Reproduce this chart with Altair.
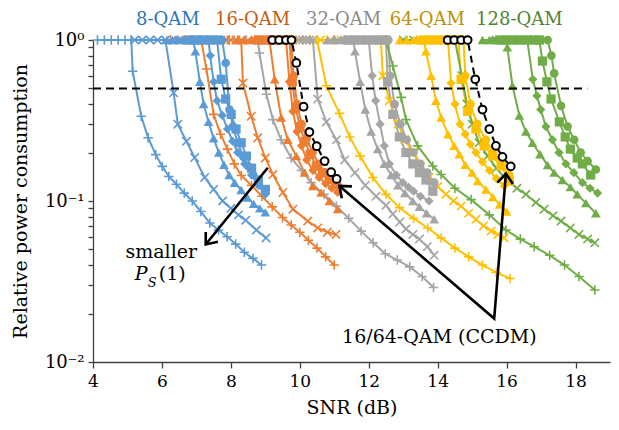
import math
import altair as alt
import pandas as pd

# ---------------- data ----------------
# 8-QAM
b_plus_x = [4.13, 4.33, 4.53, 4.73, 4.93, 5.11, 5.15, 5.4, 5.6, 5.82, 6.01, 6.2, 6.42, 6.65, 6.88, 7.13, 7.39, 7.64, 7.89, 8.14, 8.39, 8.64, 8.89]
b_plus_y = [1, 1, 1, 1, 1, 1, 0.64, 0.336, 0.247, 0.194, 0.164, 0.142, 0.127, 0.112, 0.1, 0.086, 0.073, 0.066, 0.06, 0.054, 0.048, 0.044, 0.04]
b_cross_x = [5.21, 5.43, 5.65, 5.87, 6.1, 6.34, 6.46, 6.71, 6.95, 7.24, 7.5, 7.76, 8.0, 8.22, 8.43, 8.74, 9.02]
b_cross_y = [1, 1, 1, 1, 1, 0.47, 0.3, 0.235, 0.186, 0.14, 0.118, 0.1, 0.09, 0.082, 0.076, 0.066, 0.059]
b_tri_x = [6.15, 6.3, 6.5, 6.7, 6.9, 6.97, 7.1, 7.21, 7.35, 7.5, 7.65, 7.8, 7.95, 8.11, 8.3, 8.48, 8.66, 8.84, 9.0]
b_tri_y = [1, 1, 1, 1, 1, 0.85, 0.55, 0.4, 0.31, 0.245, 0.2, 0.168, 0.145, 0.13, 0.117, 0.105, 0.096, 0.09, 0.085]
b_dia_x = [6.4, 6.6, 6.8, 7.0, 7.2, 7.35, 7.4, 7.5, 7.6, 7.75, 7.9, 8.05, 8.2, 8.4, 8.6, 8.8, 9.0]
b_dia_y = [1, 1, 1, 1, 1, 1, 0.8, 0.55, 0.42, 0.34, 0.28, 0.235, 0.2, 0.17, 0.145, 0.125, 0.11]
b_sq_x = [6.8, 7.0, 7.2, 7.4, 7.6, 7.72, 7.85, 8.01, 8.15, 8.3, 8.45, 8.6, 8.8, 9.0]
b_sq_y = [1, 1, 1, 1, 1, 0.57, 0.43, 0.345, 0.28, 0.23, 0.19, 0.16, 0.135, 0.118]
b_cir_x = [7.0, 7.2, 7.4, 7.6, 7.75, 7.85, 7.96, 8.06, 8.2, 8.35, 8.5, 8.65, 8.8, 9.0]
b_cir_y = [1, 1, 1, 1, 1, 0.72, 0.37, 0.29, 0.23, 0.19, 0.165, 0.145, 0.128, 0.115]

# 16-QAM
o_plus_x = [6.25, 6.45, 6.65, 6.85, 7.05, 7.14, 7.29, 7.5, 7.7, 7.9, 8.1, 8.3, 8.6, 8.9, 9.2, 9.5, 9.75, 10.0, 10.25, 10.5, 10.75, 11.0]
o_plus_y = [1, 1, 1, 1, 1, 1, 0.66, 0.345, 0.26, 0.21, 0.17, 0.144, 0.125, 0.107, 0.092, 0.079, 0.071, 0.064, 0.057, 0.051, 0.045, 0.04]
o_cross_x = [7.7, 7.85, 8.0, 8.15, 8.3, 8.35, 8.59, 8.78, 9.0, 9.22, 9.51, 9.8, 10.23, 10.52, 10.8, 11.05]
o_cross_y = [1, 1, 1, 1, 1, 0.54, 0.336, 0.247, 0.185, 0.146, 0.113, 0.089, 0.075, 0.068, 0.064, 0.062]
o_tri_x = [8.2, 8.4, 8.6, 8.8, 9.0, 9.12, 9.27, 9.46, 9.65, 9.9, 10.14, 10.38, 10.62, 10.86, 11.1]
o_tri_y = [1, 1, 1, 1, 1, 1, 0.57, 0.33, 0.24, 0.19, 0.15, 0.124, 0.113, 0.1, 0.089]
o_dia_x = [8.6, 8.8, 9.0, 9.2, 9.4, 9.6, 9.7, 9.8, 9.92, 10.05, 10.2, 10.38, 10.56, 10.75, 10.93, 11.1]
o_dia_y = [1, 1, 1, 1, 1, 1, 0.55, 0.36, 0.27, 0.22, 0.18, 0.155, 0.14, 0.128, 0.12, 0.113]
o_sq_x = [8.8, 9.0, 9.2, 9.4, 9.6, 9.7, 9.78, 9.88, 10.0, 10.15, 10.3, 10.48, 10.66, 10.85, 11.05]
o_sq_y = [1, 1, 1, 1, 1, 1, 0.55, 0.38, 0.29, 0.235, 0.195, 0.165, 0.15, 0.137, 0.127]
o_cir_x = [9.0, 9.2, 9.4, 9.6, 9.75, 9.82, 9.92, 10.05, 10.2, 10.37, 10.55, 10.73, 10.9, 11.1]
o_cir_y = [1, 1, 1, 1, 1, 0.6, 0.4, 0.3, 0.245, 0.2, 0.17, 0.15, 0.135, 0.125]

# 32-QAM
g_plus_x = [7.7, 7.95, 8.2, 8.45, 8.7, 8.78, 8.83, 9.03, 9.22, 9.46, 9.75, 10.05, 10.33, 10.7, 11.06, 11.42, 11.78, 12.13, 12.48, 12.83, 13.19, 13.55, 13.88]
g_plus_y = [1, 1, 1, 1, 1, 1, 0.83, 0.46, 0.32, 0.24, 0.185, 0.155, 0.13, 0.11, 0.093, 0.078, 0.065, 0.055, 0.047, 0.043, 0.039, 0.034, 0.029]
g_cross_x = [9.98, 10.08, 10.18, 10.28, 10.38, 10.52, 10.77, 11.06, 11.3, 11.6, 11.9, 12.21, 12.5, 12.7, 12.9, 13.08, 13.28, 13.47, 13.7, 13.9]
g_cross_y = [1, 1, 1, 1, 1, 0.43, 0.31, 0.24, 0.18, 0.15, 0.125, 0.107, 0.094, 0.083, 0.074, 0.067, 0.062, 0.058, 0.052, 0.046]
g_tri_x = [10.8, 11.0, 11.2, 11.4, 11.55, 11.6, 11.75, 11.9, 12.07, 12.26, 12.45, 12.65, 12.85, 13.05, 13.28, 13.47, 13.68, 13.9]
g_tri_y = [1, 1, 1, 1, 1, 0.85, 0.55, 0.37, 0.27, 0.21, 0.17, 0.145, 0.125, 0.112, 0.1, 0.092, 0.084, 0.077]
g_dia_x = [11.0, 11.2, 11.4, 11.6, 11.8, 12.0, 12.1, 12.2, 12.33, 12.45, 12.6, 12.8, 12.99, 13.15, 13.3, 13.5, 13.75]
g_dia_y = [1, 1, 1, 1, 1, 1, 0.6, 0.42, 0.3, 0.22, 0.17, 0.145, 0.13, 0.122, 0.115, 0.107, 0.1]
g_sq_x = [11.4, 11.6, 11.8, 12.0, 12.2, 12.4, 12.5, 12.55, 12.7, 12.89, 13.08, 13.28, 13.47, 13.66, 13.86]
g_sq_y = [1, 1, 1, 1, 1, 1, 1, 0.55, 0.345, 0.25, 0.2, 0.17, 0.15, 0.135, 0.115]
g_cir_x = [11.8, 12.0, 12.2, 12.4, 12.57, 12.62, 12.75, 12.92, 13.1, 13.3, 13.5, 13.7, 13.9]
g_cir_y = [1, 1, 1, 1, 1, 0.6, 0.4, 0.3, 0.24, 0.2, 0.17, 0.15, 0.13]

# 64-QAM
y_plus_x = [9.7, 9.9, 10.1, 10.3, 10.5, 10.77, 11.15, 11.45, 11.75, 12.12, 12.5, 12.89, 13.3, 13.71, 14.1, 14.5, 14.9, 15.3, 15.7, 16.1]
y_plus_y = [1, 1, 1, 1, 1, 0.52, 0.35, 0.25, 0.19, 0.14, 0.11, 0.091, 0.078, 0.068, 0.059, 0.051, 0.045, 0.04, 0.036, 0.033]
y_cross_x = [10.6, 10.9, 11.2, 11.5, 11.8, 12.1, 12.35, 12.41, 12.6, 12.85, 13.05, 13.28, 13.5, 13.75, 14.0, 14.24, 14.46, 14.68, 14.9, 15.11, 15.33, 15.55, 15.75, 15.93]
y_cross_y = [1, 1, 1, 1, 1, 1, 1, 0.6, 0.42, 0.3, 0.24, 0.2, 0.165, 0.14, 0.123, 0.11, 0.1, 0.093, 0.084, 0.077, 0.07, 0.065, 0.062, 0.059]
y_tri_x = [12.9, 13.1, 13.3, 13.5, 13.6, 13.66, 13.81, 13.95, 14.1, 14.3, 14.48, 14.63, 14.8, 15.0, 15.16, 15.4, 15.6, 15.8, 16.0]
y_tri_y = [1, 1, 1, 1, 1, 0.85, 0.6, 0.42, 0.33, 0.26, 0.22, 0.195, 0.168, 0.15, 0.133, 0.118, 0.106, 0.095, 0.086]
y_dia_x = [13.4, 13.6, 13.8, 14.0, 14.2, 14.3, 14.39, 14.5, 14.65, 14.8, 14.95, 15.11, 15.3, 15.5, 15.7, 15.93]
y_dia_y = [1, 1, 1, 1, 1, 1, 0.54, 0.4, 0.3, 0.26, 0.225, 0.2, 0.175, 0.155, 0.138, 0.124]
y_sq_x = [13.6, 13.8, 14.0, 14.2, 14.4, 14.6, 14.68, 14.87, 15.11, 15.35, 15.6, 15.84, 16.08]
y_sq_y = [1, 1, 1, 1, 1, 1, 0.57, 0.36, 0.28, 0.22, 0.19, 0.165, 0.133]
y_cir_x = [13.8, 14.0, 14.2, 14.4, 14.6, 14.75, 14.8, 14.95, 15.15, 15.4, 15.6, 15.85, 16.08]
y_cir_y = [1, 1, 1, 1, 1, 1, 0.6, 0.4, 0.3, 0.24, 0.2, 0.17, 0.145]

# 128-QAM
gr_plus_x = [11.0, 11.3, 11.6, 11.9, 12.2, 12.5, 12.7, 12.94, 13.08, 13.42, 13.86, 14.1, 14.5, 14.97, 15.5, 15.98, 16.4, 16.8, 17.25, 17.68, 18.1, 18.56]
gr_plus_y = [1, 1, 1, 1, 1, 1, 0.69, 0.44, 0.32, 0.22, 0.165, 0.146, 0.12, 0.102, 0.082, 0.066, 0.058, 0.052, 0.046, 0.04, 0.034, 0.028]
gr_cross_x = [13.0, 13.3, 13.6, 13.9, 14.2, 14.5, 14.7, 14.85, 15.0, 15.2, 15.45, 15.7, 16.0, 16.3, 16.56, 16.85, 17.09, 17.35, 17.58, 17.85, 18.1, 18.35, 18.56]
gr_cross_y = [1, 1, 1, 1, 1, 1, 0.6, 0.4, 0.3, 0.23, 0.19, 0.16, 0.135, 0.12, 0.11, 0.098, 0.089, 0.081, 0.075, 0.068, 0.062, 0.058, 0.055]
gr_tri_x = [15.3, 15.5, 15.7, 15.9, 15.98, 16.02, 16.17, 16.37, 16.56, 16.75, 16.97, 17.19, 17.38, 17.62, 17.85, 18.05, 18.3, 18.59]
gr_tri_y = [1, 1, 1, 1, 1, 0.9, 0.52, 0.34, 0.27, 0.23, 0.195, 0.167, 0.15, 0.135, 0.122, 0.11, 0.097, 0.084]
gr_dia_x = [15.6, 15.8, 16.0, 16.2, 16.4, 16.6, 16.76, 16.88, 16.99, 17.14, 17.33, 17.52, 17.72, 17.95, 18.2, 18.42, 18.64]
gr_dia_y = [1, 1, 1, 1, 1, 1, 0.57, 0.45, 0.37, 0.29, 0.24, 0.2, 0.17, 0.15, 0.13, 0.12, 0.112]
gr_sq_x = [15.8, 16.0, 16.2, 16.4, 16.6, 16.8, 16.95, 17.04, 17.17, 17.29, 17.53, 17.7, 17.85, 18.05, 18.2, 18.44]
gr_sq_y = [1, 1, 1, 1, 1, 1, 1, 0.74, 0.55, 0.43, 0.31, 0.25, 0.21, 0.185, 0.17, 0.145]
gr_cir_x = [16.0, 16.2, 16.4, 16.6, 16.8, 17.0, 17.19, 17.3, 17.38, 17.58, 17.77, 17.96, 18.15, 18.35, 18.59]
gr_cir_y = [1, 1, 1, 1, 1, 1, 1, 0.8, 0.62, 0.39, 0.29, 0.24, 0.2, 0.177, 0.157]

# CCDM curves
ccdm16_x = [9.2, 9.4, 9.6, 9.76, 9.9, 10.11, 10.28, 10.49, 10.72, 10.91, 11.07]
ccdm16_y = [1, 1, 1, 1, 0.72, 0.385, 0.268, 0.219, 0.177, 0.151, 0.137]
ccdm64_x = [14.29, 14.48, 14.68, 14.87, 15.09, 15.3, 15.5, 15.69, 15.88, 16.12]
ccdm64_y = [1, 1, 1, 1, 0.57, 0.37, 0.28, 0.22, 0.188, 0.164]

# labels / annotations
mod_names = ["8-QAM", "16-QAM", "32-QAM", "64-QAM", "128-QAM"]
line_colors = ["#5B9BD5", "#ED7D31", "#A5A5A5", "#FFC000", "#70AD47"]
label_colors = ["#2E75B6", "#C55A11", "#8C8C8C", "#BF9000", "#548235"]
label_x = [6.17, 8.63, 11.27, 13.7, 16.37]
label_y = [1.33, 1.33, 1.33, 1.33, 1.33]

threshold_y = 0.5
threshold_x = [4, 18.34]

arrow1_x = [9.07, 7.27]
arrow1_y = [0.161, 0.0537]
ccdm_arrow_x = [11.15, 15.64, 15.98]
ccdm_arrow_y = [0.124, 0.0186, 0.148]

x_ticks = [4, 6, 8, 10, 12, 14, 16, 18]

# ---------------- build ----------------
W, H = 517, 322
FONT = "DejaVu Serif"
col_of = dict(zip(mod_names, line_colors))

curves = [
    ("8-QAM", "plus", b_plus_x, b_plus_y), ("8-QAM", "cross", b_cross_x, b_cross_y),
    ("8-QAM", "tri", b_tri_x, b_tri_y), ("8-QAM", "dia", b_dia_x, b_dia_y),
    ("8-QAM", "sq", b_sq_x, b_sq_y), ("8-QAM", "cir", b_cir_x, b_cir_y),
    ("16-QAM", "plus", o_plus_x, o_plus_y), ("16-QAM", "cross", o_cross_x, o_cross_y),
    ("16-QAM", "tri", o_tri_x, o_tri_y), ("16-QAM", "dia", o_dia_x, o_dia_y),
    ("16-QAM", "sq", o_sq_x, o_sq_y), ("16-QAM", "cir", o_cir_x, o_cir_y),
    ("32-QAM", "plus", g_plus_x, g_plus_y), ("32-QAM", "cross", g_cross_x, g_cross_y),
    ("32-QAM", "tri", g_tri_x, g_tri_y), ("32-QAM", "dia", g_dia_x, g_dia_y),
    ("32-QAM", "sq", g_sq_x, g_sq_y), ("32-QAM", "cir", g_cir_x, g_cir_y),
    ("64-QAM", "plus", y_plus_x, y_plus_y), ("64-QAM", "cross", y_cross_x, y_cross_y),
    ("64-QAM", "tri", y_tri_x, y_tri_y), ("64-QAM", "dia", y_dia_x, y_dia_y),
    ("64-QAM", "sq", y_sq_x, y_sq_y), ("64-QAM", "cir", y_cir_x, y_cir_y),
    ("128-QAM", "plus", gr_plus_x, gr_plus_y), ("128-QAM", "cross", gr_cross_x, gr_cross_y),
    ("128-QAM", "tri", gr_tri_x, gr_tri_y), ("128-QAM", "dia", gr_dia_x, gr_dia_y),
    ("128-QAM", "sq", gr_sq_x, gr_sq_y), ("128-QAM", "cir", gr_cir_x, gr_cir_y),
]

rows = []
for k, (mod, mk, xs, ys) in enumerate(curves):
    for i, (x, y) in enumerate(zip(xs, ys)):
        rows.append(dict(sid=k, mod=mod, marker=mk, snr=x, p=y, i=i, col=col_of[mod]))
df = pd.DataFrame(rows)

ccdm_rows = []
for g, (xs, ys) in enumerate([(ccdm16_x, ccdm16_y), (ccdm64_x, ccdm64_y)]):
    for i, (x, y) in enumerate(zip(xs, ys)):
        ccdm_rows.append(dict(g=g, i=i, snr=x, p=y))
ccdm_df = pd.DataFrame(ccdm_rows)

xscale = alt.Scale(domain=[4, 19], nice=False, zero=False)
yscale = alt.Scale(type="log", domain=[0.01, 1], nice=False)

y_tick_vals = [round(m * 10 ** e, 6) for e in (-2, -1) for m in range(1, 10)] + [1.0]
lab_expr = ("abs(log(datum.value)/LN10 - round(log(datum.value)/LN10)) < 1e-6 ? "
            "(round(log(datum.value)/LN10) == 0 ? '10⁰' : "
            "(round(log(datum.value)/LN10) == -1 ? '10⁻¹' : '10⁻²')) : ''")

xaxis = alt.Axis(values=x_ticks, title="SNR (dB)", grid=False, tickSize=6, tickWidth=1.3,
                 domainWidth=1.3, domainColor="#404040", tickColor="#404040",
                 labelFont=FONT, labelFontSize=17, labelColor="black", labelPadding=5,
                 titleFont=FONT, titleFontSize=19, titleFontWeight="normal", titleColor="black",
                 titlePadding=9, labelFlush=False)
yaxis = alt.Axis(values=y_tick_vals, labelExpr=lab_expr, title="Relative power consumption",
                 grid=False, tickSize=5, tickWidth=1.3, domainWidth=1.3, domainColor="#404040",
                 tickColor="#404040", labelFont=FONT, labelFontSize=18, labelColor="black",
                 labelPadding=4, labelOverlap=False, labelFlush=False,
                 titleFont=FONT, titleFontSize=19, titleFontWeight="normal", titleColor="black",
                 titlePadding=14)

X = alt.X("snr:Q", scale=xscale, axis=xaxis)
Y = alt.Y("p:Q", scale=yscale, axis=yaxis)
Xn = alt.X("snr:Q", scale=xscale)
Yn = alt.Y("p:Q", scale=yscale)

base = alt.Chart(df).encode(x=Xn, y=Yn, color=alt.Color("col:N", scale=None))

lines = alt.Chart(df).mark_line(strokeWidth=2).encode(
    x=X, y=Y, color=alt.Color("col:N", scale=None), detail="sid:N", order="i:Q")

PLUS = "M-1,0L1,0M0,-1L0,1"
CROSS = "M-1,-1L1,1M-1,1L1,-1"


def pts(mk, **kw):
    return base.transform_filter(alt.datum.marker == mk).mark_point(opacity=1, **kw)


p_plus = pts("plus", shape=PLUS, filled=False, size=90, strokeWidth=1.6)
p_cross = pts("cross", shape=CROSS, filled=False, size=70, strokeWidth=1.6)
p_tri = pts("tri", shape="triangle-up", filled=True, size=95)
p_dia = pts("dia", shape="diamond", filled=True, size=85)
p_sq = pts("sq", shape="square", filled=True, size=85)
p_cir = pts("cir", shape="circle", filled=True, size=75)

# threshold line
thr_df = pd.DataFrame({"x0": [threshold_x[0]], "x1": [threshold_x[1]], "y": [threshold_y]})
thr = alt.Chart(thr_df).mark_rule(color="black", strokeWidth=2, strokeDash=[8, 5]).encode(
    x=alt.X("x0:Q", scale=xscale), x2="x1:Q", y=alt.Y("y:Q", scale=yscale))

# CCDM
ccdm_line = alt.Chart(ccdm_df).mark_line(color="black", strokeWidth=2, strokeDash=[7, 5]).encode(
    x=Xn, y=Yn, detail="g:N", order="i:Q")
ccdm_pts = alt.Chart(ccdm_df).mark_point(shape="circle", filled=True, fill="white", stroke="black",
                                          strokeWidth=2, size=60, opacity=1).encode(x=Xn, y=Yn)


# arrows
def to_px(x, y):
    return (x - 4) / 15 * W, -math.log10(y) / 2 * H


def heading(x0, y0, x1, y1):
    a, b = to_px(x0, y0)
    c, d = to_px(x1, y1)
    return math.degrees(math.atan2(d - b, c - a)) % 360


arr_rows = []
for k, (xs, ys) in enumerate([(arrow1_x, arrow1_y), (ccdm_arrow_x, ccdm_arrow_y)]):
    for i, (x, y) in enumerate(zip(xs, ys)):
        arr_rows.append(dict(a=k, i=i, snr=x, p=y))
arr_df = pd.DataFrame(arr_rows)
arr_lines = alt.Chart(arr_df).mark_line(color="black", strokeWidth=2.6).encode(
    x=Xn, y=Yn, detail="a:N", order="i:Q")

head_df = pd.DataFrame({
    "snr": [arrow1_x[1], ccdm_arrow_x[0], ccdm_arrow_x[2]],
    "p": [arrow1_y[1], ccdm_arrow_y[0], ccdm_arrow_y[2]],
    "ang": [heading(arrow1_x[0], arrow1_y[0], arrow1_x[1], arrow1_y[1]),
            heading(ccdm_arrow_x[1], ccdm_arrow_y[1], ccdm_arrow_x[0], ccdm_arrow_y[0]),
            heading(ccdm_arrow_x[1], ccdm_arrow_y[1], ccdm_arrow_x[2], ccdm_arrow_y[2])],
})
heads = alt.Chart(head_df).mark_point(shape="M-1,-0.8L0,0L-1,0.8", filled=False, stroke="black",
                                       strokeWidth=2.6, size=380, opacity=1).encode(
    x=Xn, y=Yn, angle=alt.Angle("ang:Q", scale=None))

# text
lab_df = pd.DataFrame({"t": mod_names, "snr": label_x, "p": label_y, "c": label_colors})
mod_labels = alt.Chart(lab_df).mark_text(font=FONT, fontSize=18, baseline="middle", align="center").encode(
    x=Xn, y=Yn, text="t:N", color=alt.Color("c:N", scale=None))

ann_df = pd.DataFrame({
    "t": ["smaller", "16/64-QAM (CCDM)"],
    "snr": [5.98, 14.05],
    "p": [0.048, 0.0142],
})
ann = alt.Chart(ann_df).mark_text(font=FONT, fontSize=19, baseline="middle", align="center",
                                  color="black").encode(x=Xn, y=Yn, text="t:N")

ps_df = pd.DataFrame({"t": ["P"], "snr": [5.4], "p": [0.035]})
ps_p = alt.Chart(ps_df).mark_text(font=FONT, fontSize=19, fontStyle="italic", baseline="middle",
                                  align="center", color="black").encode(x=Xn, y=Yn, text="t:N")
ss_df = pd.DataFrame({"t": ["S"], "snr": [5.72], "p": [0.031]})
ps_s = alt.Chart(ss_df).mark_text(font=FONT, fontSize=13, fontStyle="italic", baseline="middle",
                                  align="center", color="black").encode(x=Xn, y=Yn, text="t:N")
one_df = pd.DataFrame({"t": ["(1)"], "snr": [6.3], "p": [0.035]})
ps_1 = alt.Chart(one_df).mark_text(font=FONT, fontSize=19, baseline="middle", align="center",
                                   color="black").encode(x=Xn, y=Yn, text="t:N")

chart = alt.layer(
    lines, p_plus, p_cross, p_tri, p_dia, p_sq, p_cir,
    thr, ccdm_line, ccdm_pts, arr_lines, heads,
    mod_labels, ann, ps_p, ps_s, ps_1,
).properties(
    width=W, height=H,
    autosize=alt.AutoSizeParams(type="none"),
    padding={"left": 85, "top": 32, "right": 1, "bottom": 68},
).configure_view(stroke=None)

chart.save("out.html", embed_options={"renderer": "svg", "actions": False})
